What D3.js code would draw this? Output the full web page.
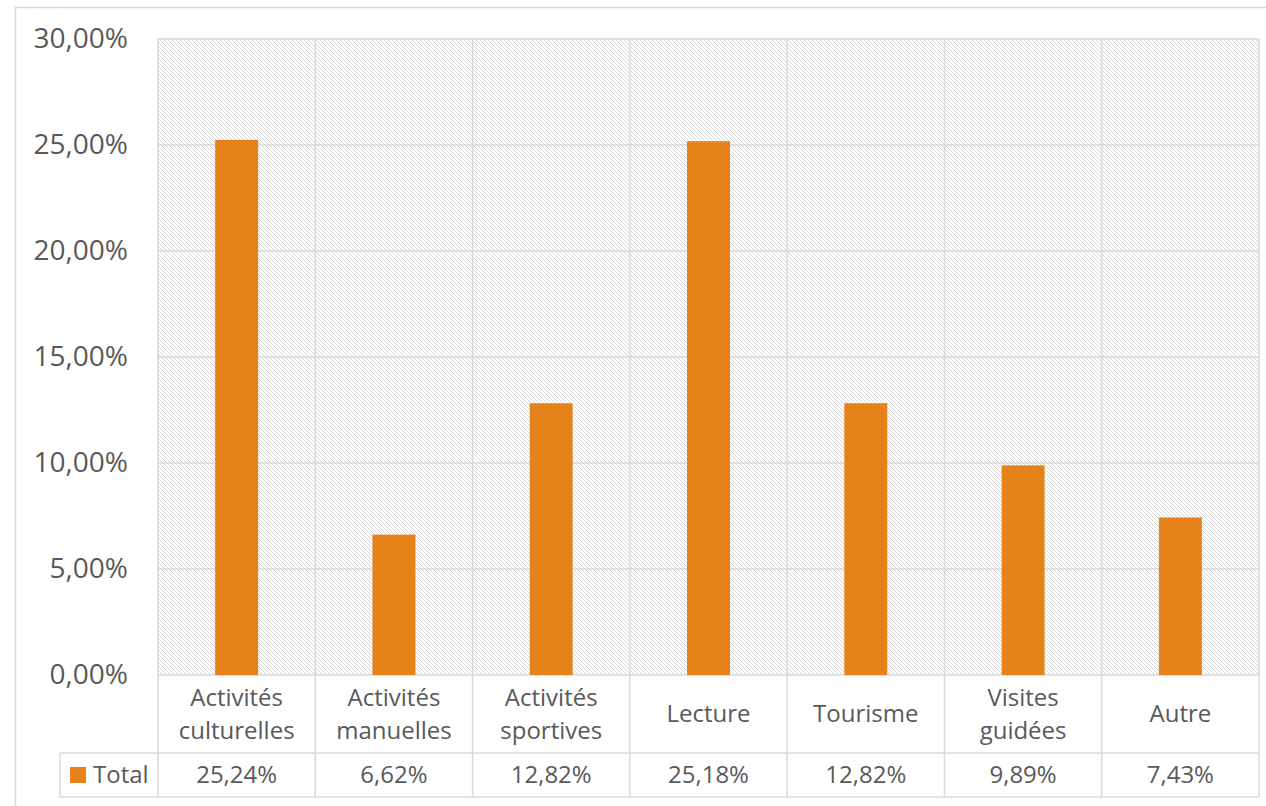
<!DOCTYPE html>
<html><head><meta charset="utf-8">
<script src="https://cdn.jsdelivr.net/npm/d3@7"></script>
<style>
html,body{margin:0;padding:0;background:#fff;}
svg{display:block;font-family:"Open Sans",sans-serif;}
</style></head>
<body>
<svg id="chart" width="1266" height="806"></svg>
<script>
const categories = [["Activités","culturelles"],["Activités","manuelles"],["Activités","sportives"],["Lecture"],["Tourisme"],["Visites","guidées"],["Autre"]];
const values = [25.24, 6.62, 12.82, 25.18, 12.82, 9.89, 7.43];
const valueLabels = ["25,24%","6,62%","12,82%","25,18%","12,82%","9,89%","7,43%"];
const yTicks = [0,5,10,15,20,25,30];
const seriesName = "Total";

const svg = d3.select("#chart");
const grid = "#d9d9d9", txt = "#595959", barColor = "#E5821A";
const L = 158, R = 1259, T = 39, B = 675;
const rowDiv = 753, tableBottom = 797, legendLeft = 60;

const defs = svg.append("defs");
const pat = defs.append("pattern").attr("id","hatch").attr("patternUnits","userSpaceOnUse")
  .attr("width",4).attr("height",4);
pat.append("path").attr("d","M0,0 L4,4 M-1,3 L1,5 M3,-1 L5,1")
  .attr("stroke","#d6d6d6").attr("stroke-width",1).attr("fill","none");

// outer chart border
svg.append("rect").attr("x",15.5).attr("y",7.5).attr("width",1400).attr("height",1000)
  .attr("fill","none").attr("stroke",grid).attr("stroke-width",1.5);

const x = d3.scaleBand().domain(d3.range(categories.length)).range([L,R]).paddingInner(0).paddingOuter(0);
const y = d3.scaleLinear().domain([0,30]).range([B,T]);

// plot background hatch
svg.append("rect").attr("x",L).attr("y",T).attr("width",R-L).attr("height",B-T).attr("fill","url(#hatch)");

// horizontal gridlines
svg.append("g").selectAll("line").data(yTicks).join("line")
  .attr("x1",L).attr("x2",R).attr("y1",d=>y(d)).attr("y2",d=>y(d))
  .attr("stroke",grid).attr("stroke-width",1.5);

// vertical lines (category boundaries) through plot and table
const bounds = d3.range(categories.length+1).map(i => i<categories.length ? x(i) : R);
svg.append("g").selectAll("line").data(bounds).join("line")
  .attr("x1",d=>d).attr("x2",d=>d).attr("y1",T).attr("y2",tableBottom)
  .attr("stroke",grid).attr("stroke-width",1.5);

// table horizontal lines
svg.append("line").attr("x1",legendLeft).attr("x2",R).attr("y1",rowDiv).attr("y2",rowDiv).attr("stroke",grid).attr("stroke-width",1.5);
svg.append("line").attr("x1",legendLeft).attr("x2",R).attr("y1",tableBottom).attr("y2",tableBottom).attr("stroke",grid).attr("stroke-width",1.5);
svg.append("line").attr("x1",legendLeft).attr("x2",legendLeft).attr("y1",rowDiv).attr("y2",tableBottom).attr("stroke",grid).attr("stroke-width",1.5);

// bars
const bw = x.bandwidth()*0.273;
svg.append("g").selectAll("rect").data(values).join("rect")
  .attr("x",(d,i)=>x(i)+x.bandwidth()/2-bw/2)
  .attr("width",bw)
  .attr("y",d=>y(d)).attr("height",d=>y(0)-y(d))
  .attr("fill",barColor);

// y axis labels
const yAxis = d3.axisLeft(y).tickValues(yTicks).tickSize(0).tickPadding(0)
  .tickFormat(d=>d3.format(".2f")(d).replace(".",",")+"%");
const ga = svg.append("g").attr("transform",`translate(128,0)`).call(yAxis);
ga.select(".domain").remove();
ga.selectAll("text").attr("fill",txt).style("font-size","28px").style("font-family","'Open Sans',sans-serif");

// category labels
const catG = svg.append("g");
categories.forEach((lines,i)=>{
  const cx = x(i)+x.bandwidth()/2;
  const lh = 33;
  const midY = (B+rowDiv)/2;
  const t = catG.append("text").attr("text-anchor","middle").attr("fill",txt).style("font-size","24px");
  lines.forEach((ln,j)=>{
    t.append("tspan").attr("x",cx).attr("y", midY + (j-(lines.length-1)/2)*lh).attr("dy","0.35em").text(ln);
  });
});

// value row
svg.append("g").selectAll("text").data(valueLabels).join("text")
  .attr("x",(d,i)=>x(i)+x.bandwidth()/2).attr("y",(rowDiv+tableBottom)/2).attr("dy","0.35em")
  .attr("text-anchor","middle").attr("fill",txt).style("font-size","24px").text(d=>d);

// legend cell
svg.append("rect").attr("x",70).attr("y",767).attr("width",16).attr("height",16).attr("fill",barColor);
svg.append("text").attr("x",93).attr("y",(rowDiv+tableBottom)/2).attr("dy","0.35em")
  .attr("fill",txt).style("font-size","24px").text(seriesName);
</script>
</body></html>
